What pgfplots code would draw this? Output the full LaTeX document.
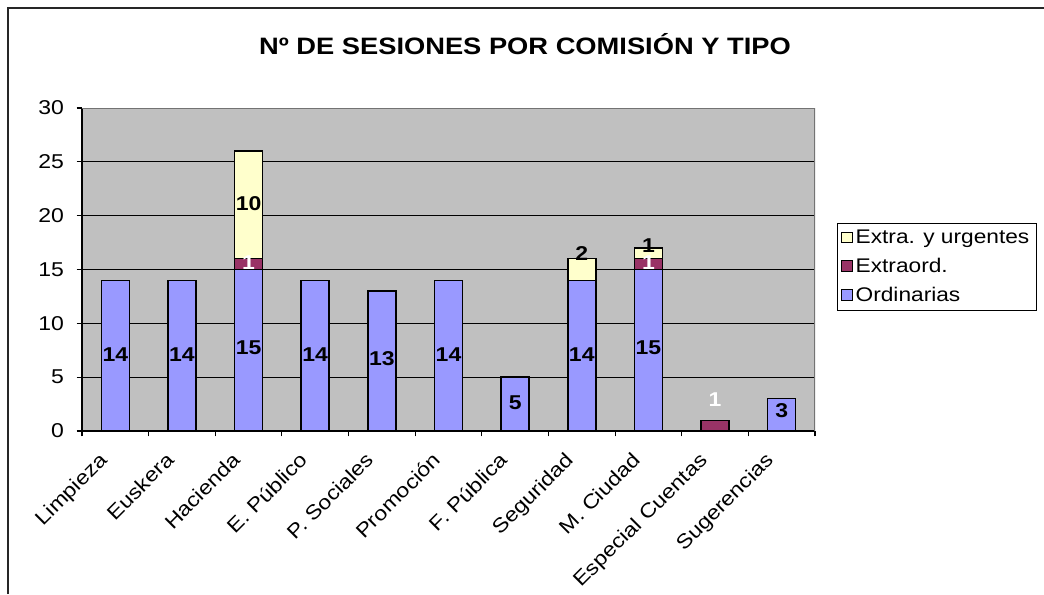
\documentclass[border=0pt]{standalone}
\usepackage{fontspec}
\setmainfont{Liberation Sans}[FakeStretch=1.15]
\usepackage{pgfplots}
\pgfplotsset{compat=1.18}
\definecolor{ord}{HTML}{9999FF}
\definecolor{exo}{HTML}{993366}
\definecolor{exu}{HTML}{FFFFCC}
\definecolor{plotbg}{HTML}{C0C0C0}
\tikzset{lbl/.style={font=\bfseries\fontsize{15}{17}\selectfont, inner sep=0pt}}
\pgfplotsset{sqlegend/.style={legend image code/.code={\draw[##1, draw=black, line width=0.7pt] (0pt,-4pt) rectangle (8pt,4pt);}}}
\begin{document}
\begin{tikzpicture}[x=1pt,y=1pt]
\useasboundingbox (0,0) rectangle (783,445.5);
\draw[line width=1pt, black!85] (6,0) -- (6,439.5) -- (783,439.5);
\node[font=\bfseries\fontsize{17.8}{21}\selectfont] at (393.75,412.5) {Nº DE SESIONES POR COMISIÓN Y TIPO};
\begin{axis}[
  at={(61.5pt,122.25pt)}, anchor=south west,
  scale only axis, width=549.75pt, height=242.25pt,
  ybar stacked, bar width=21pt,
  xmin=-0.5, xmax=10.5, ymin=0, ymax=30,
  ytick={0,5,...,30},
  xtick={0,...,10},
  minor xtick={-0.5,0.5,...,10.5},
  xticklabels={Limpieza,Euskera,Hacienda,E. Público,P. Sociales,Promoción,F. Pública,Seguridad,M. Ciudad,Especial Cuentas,Sugerencias},
  x tick label style={rotate=45, anchor=north east, font=\fontsize{15}{17}\selectfont, inner sep=1pt, xshift=-15.7pt, yshift=2.4pt},
  y tick label style={font=\fontsize{15}{17}\selectfont, xshift=-6pt},
  /pgf/number format/assume math mode=true,
  axis x line*=bottom, axis y line*=left,
  axis line style={black, line width=0.8pt},
  tick align=outside,
  major tick length=4pt,
  minor tick length=4pt,
  tick style={black, line width=0.8pt},
  major x tick style={draw=none},
  ymajorgrids, major grid style={black, line width=0.6pt},
  axis background/.style={fill=plotbg},
  legend style={at={(1.03,0.509)}, anchor=west, draw=black, line width=0.6pt, font=\fontsize{14.8}{17}\selectfont, row sep=5.5pt, inner sep=3pt, cells={anchor=west}},
  reverse legend,
  area legend, sqlegend,
]
\addplot[fill=ord, draw=black, line width=1.1pt] coordinates {(0,14) (1,14) (2,15) (3,14) (4,13) (5,14) (6,5) (7,14) (8,15) (9,0) (10,3)};
\addplot[fill=exo, draw=black, line width=1.1pt] coordinates {(0,0) (1,0) (2,1) (3,0) (4,0) (5,0) (6,0) (7,0) (8,1) (9,1) (10,0)};
\addplot[fill=exu, draw=black, line width=1.1pt] coordinates {(0,0) (1,0) (2,10) (3,0) (4,0) (5,0) (6,0) (7,2) (8,1) (9,0) (10,0)};
\legend{Ordinarias,Extraord.,Extra. y urgentes}
\draw[black!55, line width=0.8pt] (rel axis cs:0,1) -- (rel axis cs:1,1) -- (rel axis cs:1,0);
\coordinate (a0) at (axis cs:0,7.1);
\coordinate (a1) at (axis cs:1,7.1);
\coordinate (a2) at (axis cs:2,7.7);
\coordinate (a3) at (axis cs:3,7.1);
\coordinate (a4) at (axis cs:4,6.7);
\coordinate (a5) at (axis cs:5,7.1);
\coordinate (a6) at (axis cs:6,2.6);
\coordinate (a7) at (axis cs:7,7.1);
\coordinate (a8) at (axis cs:8,7.7);
\coordinate (a10) at (axis cs:10,1.9);
\coordinate (b2) at (axis cs:2,15.6);
\coordinate (b8) at (axis cs:8,15.6);
\coordinate (b9) at (axis cs:9,2.9);
\coordinate (c2) at (axis cs:2,21.1);
\coordinate (c7) at (axis cs:7,16.5);
\coordinate (c8) at (axis cs:8,17.2);
\end{axis}
\node[lbl] at (a0) {14};
\node[lbl] at (a1) {14};
\node[lbl] at (a2) {15};
\node[lbl] at (a3) {14};
\node[lbl] at (a4) {13};
\node[lbl] at (a5) {14};
\node[lbl] at (a6) {5};
\node[lbl] at (a7) {14};
\node[lbl] at (a8) {15};
\node[lbl] at (a10) {3};
\node[lbl, white] at (b2) {1};
\node[lbl, white] at (b8) {1};
\node[lbl, white] at (b9) {1};
\node[lbl] at (c2) {10};
\node[lbl] at (c7) {2};
\node[lbl] at (c8) {1};
\end{tikzpicture}
\end{document}
